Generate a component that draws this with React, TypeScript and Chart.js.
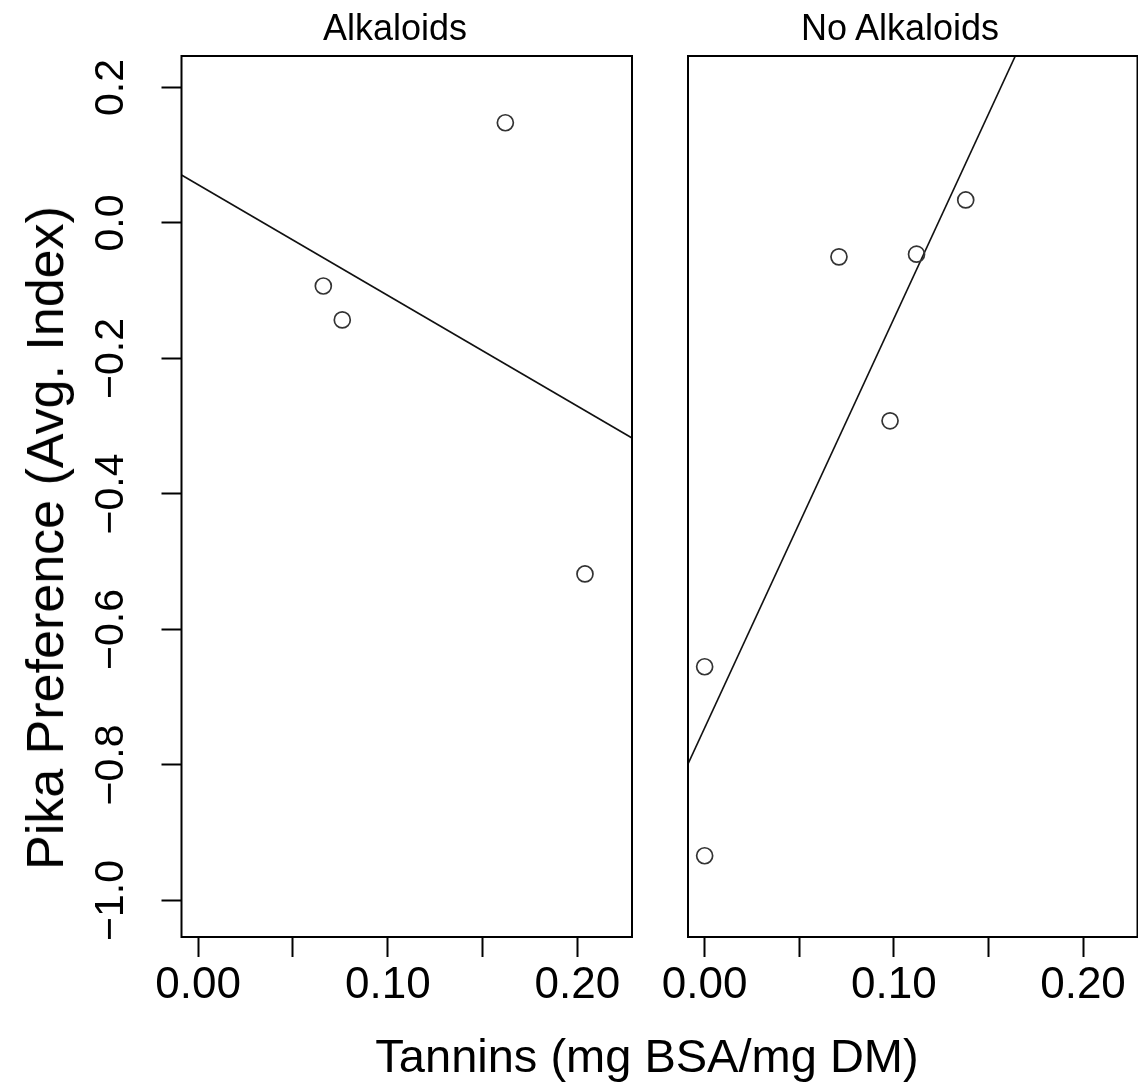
import React, { useEffect, useRef } from "react";
import { Chart, registerables } from "chart.js";

Chart.register(...registerables);

// ---- data ----
const xTicks = [0, 0.05, 0.1, 0.15, 0.2];
const xLabeled = [0, 0.1, 0.2];
const yTicks = [-1.0, -0.8, -0.6, -0.4, -0.2, 0.0, 0.2];
const xRange = [-0.0088, 0.2288];
const yRange = [-1.0539, 0.2465];

const panelTitles = ["Alkaloids", "No Alkaloids"];
const xAxisTitle = "Tannins (mg BSA/mg DM)";
const yAxisTitle = "Pika Preference (Avg. Index)";

const alkTannins = [0.066, 0.076, 0.162, 0.204];
const alkPref = [-0.093, -0.143, 0.148, -0.518];
const alkFit = [0.0565, -1.634]; // intercept, slope

const noAlkTannins = [0.0, 0.0, 0.071, 0.098, 0.112, 0.138];
const noAlkPref = [-0.655, -0.934, -0.05, -0.292, -0.046, 0.034];
const noAlkFit = [-0.7453, 6.04]; // intercept, slope

// ---- styling ----
const FONT = "'Liberation Sans', Arial, Helvetica, sans-serif";
const PAGE_W = 1138;
const PAGE_H = 1089;
const PLOT_TOP = 56;
const PLOT_BOTTOM = 937;

const framePlugin = {
  id: "frame",
  afterDatasetsDraw(chart: any) {
    const { ctx, chartArea } = chart;
    const { left, top, right, bottom } = chartArea;
    ctx.save();
    ctx.strokeStyle = "#000";
    ctx.lineWidth = 2;
    ctx.strokeRect(left, top, right - left, bottom - top);
    ctx.restore();
  },
};

const fmtY = (v: number) => {
  const s = Math.abs(v) < 1e-9 ? "0.0" : v.toFixed(1);
  return s.replace("-", "\u2212");
};

function makeConfig(
  xs: number[],
  ys: number[],
  fit: number[],
  showY: boolean,
  padding: any
) {
  const points = xs.map((x, i) => ({ x, y: ys[i] }));
  const lineData = xRange.map((x) => ({ x, y: fit[0] + fit[1] * x }));
  const tickGrid = {
    display: true,
    drawOnChartArea: false,
    drawTicks: true,
    tickLength: 20,
    tickWidth: 2,
    tickColor: "#000",
    color: "#000",
  };
  return {
    type: "scatter",
    data: {
      datasets: [
        {
          data: points,
          pointStyle: "circle",
          pointRadius: 8,
          pointHoverRadius: 8,
          borderWidth: 1.7,
          borderColor: "#333",
          backgroundColor: "rgba(0,0,0,0)",
          showLine: false,
        },
        {
          data: lineData,
          showLine: true,
          pointRadius: 0,
          borderColor: "#111",
          borderWidth: 1.6,
          fill: false,
        },
      ],
    },
    options: {
      responsive: false,
      animation: false,
      events: [],
      layout: { padding, autoPadding: false },
      plugins: {
        legend: { display: false },
        tooltip: { enabled: false },
        title: { display: false },
      },
      scales: {
        x: {
          type: "linear",
          min: xRange[0],
          max: xRange[1],
          afterBuildTicks: (s: any) => {
            s.ticks = xTicks.map((v) => ({ value: v }));
          },
          afterFit: (s: any) => {
            s.height = PAGE_H - PLOT_BOTTOM;
          },
          grid: tickGrid,
          border: { display: false },
          ticks: {
            autoSkip: false,
            minRotation: 0,
            maxRotation: 0,
            padding: 2,
            color: "#000",
            font: { family: FONT, size: 44 },
            callback: (v: any) =>
              xLabeled.some((t) => Math.abs(t - v) < 1e-9)
                ? Number(v).toFixed(2)
                : "",
          },
        },
        y: showY
          ? {
              type: "linear",
              min: yRange[0],
              max: yRange[1],
              afterBuildTicks: (s: any) => {
                s.ticks = yTicks.map((v) => ({ value: v }));
              },
              afterFit: (s: any) => {
                s.width = 181.5;
              },
              grid: tickGrid,
              border: { display: false },
              ticks: {
                autoSkip: false,
                minRotation: 90,
                maxRotation: 90,
                crossAlign: "center",
                padding: 9,
                color: "#000",
                font: { family: FONT, size: 41 },
                callback: (v: any) => fmtY(Number(v)),
              },
            }
          : {
              type: "linear",
              display: false,
              min: yRange[0],
              max: yRange[1],
            },
      },
    },
    plugins: [framePlugin],
  };
}

function Panel(props: {
  left: number;
  width: number;
  xs: number[];
  ys: number[];
  fit: number[];
  showY: boolean;
  padding: any;
}) {
  const ref = useRef<HTMLCanvasElement | null>(null);
  useEffect(() => {
    if (!ref.current) return;
    const chart = new Chart(
      ref.current,
      makeConfig(props.xs, props.ys, props.fit, props.showY, props.padding) as any
    );
    return () => chart.destroy();
  }, []);
  return (
    <canvas
      ref={ref}
      width={props.width}
      height={PAGE_H}
      style={{
        position: "absolute",
        left: props.left,
        top: 0,
        width: props.width,
        height: PAGE_H,
        display: "block",
      }}
    />
  );
}

const textBase: React.CSSProperties = {
  position: "absolute",
  fontFamily: FONT,
  color: "#000",
  whiteSpace: "nowrap",
  lineHeight: 1,
  transform: "translate(-50%, -50%)",
};

export default function App() {
  return (
    <div
      style={{
        position: "absolute",
        left: 0,
        top: 0,
        width: PAGE_W,
        height: PAGE_H,
        overflow: "hidden",
        background: "#fff",
      }}
    >
      <Panel
        left={0}
        width={660}
        xs={alkTannins}
        ys={alkPref}
        fit={alkFit}
        showY={true}
        padding={{ top: PLOT_TOP, right: 28, left: 0, bottom: 0 }}
      />
      <Panel
        left={640}
        width={498}
        xs={noAlkTannins}
        ys={noAlkPref}
        fit={noAlkFit}
        showY={false}
        padding={{ top: PLOT_TOP, right: 0.5, left: 48, bottom: 0 }}
      />
      <div style={{ ...textBase, left: 395, top: 28, fontSize: 36 }}>
        {panelTitles[0]}
      </div>
      <div style={{ ...textBase, left: 900, top: 28, fontSize: 36 }}>
        {panelTitles[1]}
      </div>
      <div style={{ ...textBase, left: 647, top: 1055, fontSize: 47 }}>
        {xAxisTitle}
      </div>
      <div
        style={{
          ...textBase,
          left: 45,
          top: 538,
          fontSize: 52,
          transform: "translate(-50%, -50%) rotate(-90deg)",
        }}
      >
        {yAxisTitle}
      </div>
    </div>
  );
}
